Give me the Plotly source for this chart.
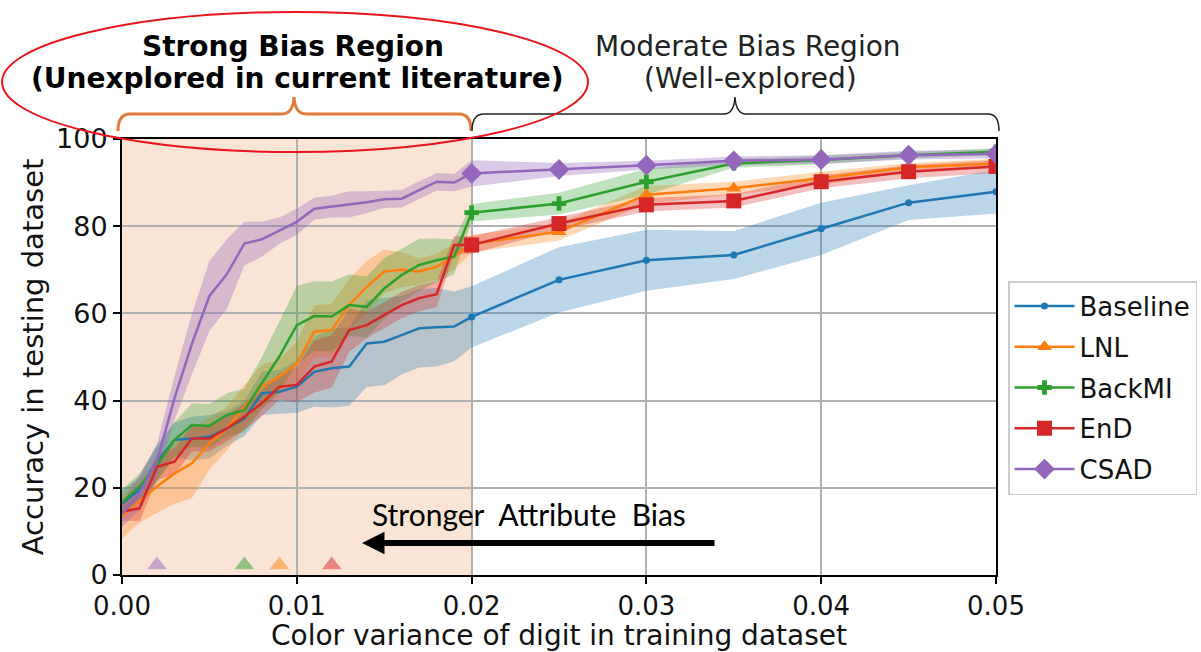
import plotly.graph_objects as go

# ---------------- data ----------------
x_vals = [0.000, 0.001, 0.002, 0.003, 0.004, 0.005, 0.006, 0.007, 0.008, 0.009,
          0.010, 0.011, 0.012, 0.013, 0.014, 0.015, 0.016, 0.017, 0.018, 0.019,
          0.020, 0.025, 0.030, 0.035, 0.040, 0.045, 0.050]

baseline = [16.4, 19.5, 26.0, 31.0, 31.3, 31.7, 33.6, 35.9, 41.7, 42.0,
            43.2, 46.6, 47.4, 47.8, 53.1, 53.5, 55.0, 56.6, 56.8, 57.0,
            59.2, 67.7, 72.2, 73.4, 79.4, 85.4, 87.9]
baseline_std = [3, 3, 4, 4, 5, 5, 4, 4, 5, 5,
                6, 8, 9, 9, 10, 10, 9, 9, 9, 8,
                7, 7.5, 7, 5.5, 6, 4, 5]

lnl = [13.4, 17.0, 20.3, 23.3, 25.6, 30.2, 33.6, 38.6, 43.2, 45.5,
       48.5, 55.8, 56.2, 62.0, 66.1, 69.6, 70.0, 69.6, 70.7, 73.0,
       76.0, 78.7, 87.2, 88.7, 91.0, 93.5, 94.4]
lnl_std = [5, 5, 6, 7, 8, 6, 5, 5, 5, 4,
           5, 6, 6, 6, 6, 5, 4, 3, 3, 3,
           2, 2, 2, 1.5, 1.5, 1, 1]

backmi = [16.6, 20.3, 25.2, 31.0, 34.4, 34.2, 36.7, 37.8, 44.0, 50.1,
          57.3, 59.4, 59.3, 61.9, 61.5, 65.7, 68.8, 71.1, 72.2, 73.0,
          83.1, 85.2, 90.2, 94.4, 95.2, 96.3, 97.1]
backmi_std = [3, 3, 4, 4, 5, 5, 5, 5, 6, 8,
              9, 8, 8, 7, 7, 7, 6, 6, 5, 4,
              2, 2.5, 3, 1, 1, 0.8, 0.8]

end = [14.5, 15.3, 24.8, 26.0, 31.3, 31.3, 33.6, 36.3, 39.4, 43.2,
       43.6, 47.8, 49.0, 56.2, 57.3, 59.6, 61.9, 63.5, 64.4, 75.7,
       75.7, 80.6, 84.9, 85.8, 90.2, 92.5, 93.7]
end_std = [2, 3, 3, 3, 3, 3, 3, 3, 3, 3,
           4, 6, 6, 5, 3, 3, 3, 3, 3, 2,
           2, 1.5, 1.5, 1.5, 1.5, 1.5, 1.5]

csad = [14.0, 18.8, 26.0, 40.5, 53.0, 64.0, 69.0, 76.0, 77.0, 79.0,
        81.0, 84.0, 84.5, 85.0, 85.5, 86.2, 86.3, 88.3, 90.2, 90.0,
        92.1, 93.0, 94.0, 95.0, 95.3, 96.3, 96.6]
csad_std = [3, 4, 4, 5, 7, 8, 8, 5, 4, 3,
            3, 2.5, 2.5, 3, 2.5, 2, 2, 2, 2, 2,
            3, 1.5, 1, 1, 1, 1, 1]

series_names = ["Baseline", "LNL", "BackMI", "EnD", "CSAD"]
series_vals = [baseline, lnl, backmi, end, csad]
series_std = [baseline_std, lnl_std, backmi_std, end_std, csad_std]

# threshold markers on x-axis
thr_x = [0.002, 0.007, 0.009, 0.012]
thr_y = [2.3, 2.3, 2.3, 2.3]
thr_method = ["CSAD", "BackMI", "LNL", "EnD"]

x_ticks = [0.00, 0.01, 0.02, 0.03, 0.04, 0.05]
x_ticktext = ["0.00", "0.01", "0.02", "0.03", "0.04", "0.05"]
y_ticks = [0, 20, 40, 60, 80, 100]

# ---------------- styles ----------------
colors = {"Baseline": "#1f77b4", "LNL": "#ff7f0e", "BackMI": "#2ca02c",
          "EnD": "#d62728", "CSAD": "#9467bd"}
band_rgba = {"Baseline": "rgba(31,119,180,0.30)", "LNL": "rgba(255,127,14,0.30)",
             "BackMI": "rgba(44,160,44,0.30)", "EnD": "rgba(214,39,40,0.30)",
             "CSAD": "rgba(148,103,189,0.35)"}
symbols = {"Baseline": "circle", "LNL": "triangle-up", "BackMI": "cross",
           "EnD": "square", "CSAD": "diamond"}
msizes = {"Baseline": 7, "LNL": 13, "BackMI": 12, "EnD": 15, "CSAD": 16}

FONT = "DejaVu Sans"
W, H = 1201, 652
L, R, T, B = 122, 996, 139, 575


def px(xp):
    return (xp - L) / (R - L)


def py(yp):
    return (B - yp) / (B - T)


fig = go.Figure()

# bands
for name, vals, std in zip(series_names, series_vals, series_std):
    upper = [v + s for v, s in zip(vals, std)]
    lower = [v - s for v, s in zip(vals, std)]
    fig.add_trace(go.Scatter(
        x=x_vals + x_vals[::-1], y=upper + lower[::-1],
        fill="toself", fillcolor=band_rgba[name], line=dict(width=0),
        mode="lines", hoverinfo="skip", showlegend=False))

# dense lines (no markers)
n_dense = 21
for name, vals in zip(series_names, series_vals):
    fig.add_trace(go.Scatter(
        x=x_vals[:n_dense], y=vals[:n_dense], mode="lines",
        line=dict(color=colors[name], width=2.5), showlegend=False,
        legendgroup=name))

# sparse lines with markers (legend entries)
for name, vals in zip(series_names, series_vals):
    fig.add_trace(go.Scatter(
        x=x_vals[n_dense - 1:], y=vals[n_dense - 1:], mode="lines+markers",
        name=name, legendgroup=name,
        line=dict(color=colors[name], width=2.5),
        marker=dict(symbol=symbols[name], size=msizes[name], color=colors[name],
                    line=dict(width=0))))

# threshold triangles
fig.add_trace(go.Scatter(
    x=thr_x, y=thr_y, mode="markers", showlegend=False,
    marker=dict(symbol="triangle-up", size=17,
                color=[colors[m] for m in thr_method], opacity=0.5)))

shapes = []
# strong-bias shading
shapes.append(dict(type="rect", xref="x", yref="paper", x0=0, x1=0.02, y0=0, y1=1,
                   fillcolor="rgb(250,228,213)", line=dict(width=0), layer="below"))


def P(x, y):
    return f"{px(x):.5f},{py(y):.5f}"


orange_br = (f"M {P(118,131)} Q {P(118,114)} {P(130,114)} L {P(282,114)} "
             f"Q {P(293,114)} {P(294,97)} Q {P(295,114)} {P(306,114)} "
             f"L {P(459,114)} Q {P(471,114)} {P(471,131)}")
black_br = (f"M {P(472,131)} Q {P(472,114)} {P(484,114)} L {P(724,114)} "
            f"Q {P(734,114)} {P(735,97)} Q {P(736,114)} {P(746,114)} "
            f"L {P(988,114)} Q {P(999,114)} {P(999,131)}")
shapes.append(dict(type="path", xref="paper", yref="paper", path=orange_br,
                   line=dict(color="#e07c3c", width=3)))
shapes.append(dict(type="path", xref="paper", yref="paper", path=black_br,
                   line=dict(color="#222222", width=1.5)))
# red ellipse
shapes.append(dict(type="circle", xref="paper", yref="paper",
                   x0=px(2), x1=px(588), y0=py(152), y1=py(12),
                   line=dict(color="#e8161c", width=2)))


def txt(x, y, text, size, family=FONT, color="black"):
    return dict(xref="paper", yref="paper", x=px(x), y=py(y), text=text,
                xanchor="center", yanchor="middle", showarrow=False,
                font=dict(family=family, size=size, color=color))


annotations = [
    txt(293, 47, "<b>Strong Bias Region</b>", 28),
    txt(297, 78, "<b>(Unexplored in current literature)</b>", 28),
    txt(748, 47, "Moderate Bias Region", 28, color="#222222"),
    txt(750, 78, "(Well-explored)", 28, color="#222222"),
    txt(529, 514, "Stronger&nbsp;&nbsp;Attribute&nbsp;&nbsp;Bias", 30, family="Lato"),
    dict(xref="x", yref="y", axref="x", ayref="y",
         x=(362 - L) / (R - L) * 0.05, y=(B - 543) / (B - T) * 100,
         ax=(716 - L) / (R - L) * 0.05, ay=(B - 543) / (B - T) * 100,
         text="", showarrow=True, arrowhead=2, arrowsize=0.75, arrowwidth=6,
         arrowcolor="black"),
]

fig.update_layout(
    width=W, height=H,
    margin=dict(l=L, r=W - R, t=T, b=H - B, autoexpand=False),
    paper_bgcolor="white", plot_bgcolor="white",
    font=dict(family=FONT, size=26, color="#111111"),
    shapes=shapes, annotations=annotations,
    legend=dict(x=px(1008), y=py(281), xanchor="left", yanchor="top",
                bgcolor="white", bordercolor="#cccccc", borderwidth=1.5,
                font=dict(family=FONT, size=26, color="#111111"),
                itemwidth=60, tracegroupgap=4),
    xaxis=dict(range=[0, 0.05], tickvals=x_ticks, ticktext=x_ticktext,
               showgrid=True, gridcolor="#b0b0b0", gridwidth=2,
               showline=True, linecolor="black", linewidth=2, mirror=True,
               ticks="outside", ticklen=7, tickwidth=2, tickcolor="black",
               tickfont=dict(size=26), zeroline=False,
               title=dict(text="Color variance of digit in training dataset",
                          font=dict(size=28), standoff=7)),
    yaxis=dict(range=[0, 100], tickvals=y_ticks,
               showgrid=True, gridcolor="#b0b0b0", gridwidth=2,
               showline=True, linecolor="black", linewidth=2, mirror=True,
               ticks="outside", ticklen=7, tickwidth=2, tickcolor="black",
               tickfont=dict(size=27), zeroline=False,
               title=dict(text="Accuracy in testing dataset",
                          font=dict(size=29), standoff=4)),
)

fig.write_html("out.html")
